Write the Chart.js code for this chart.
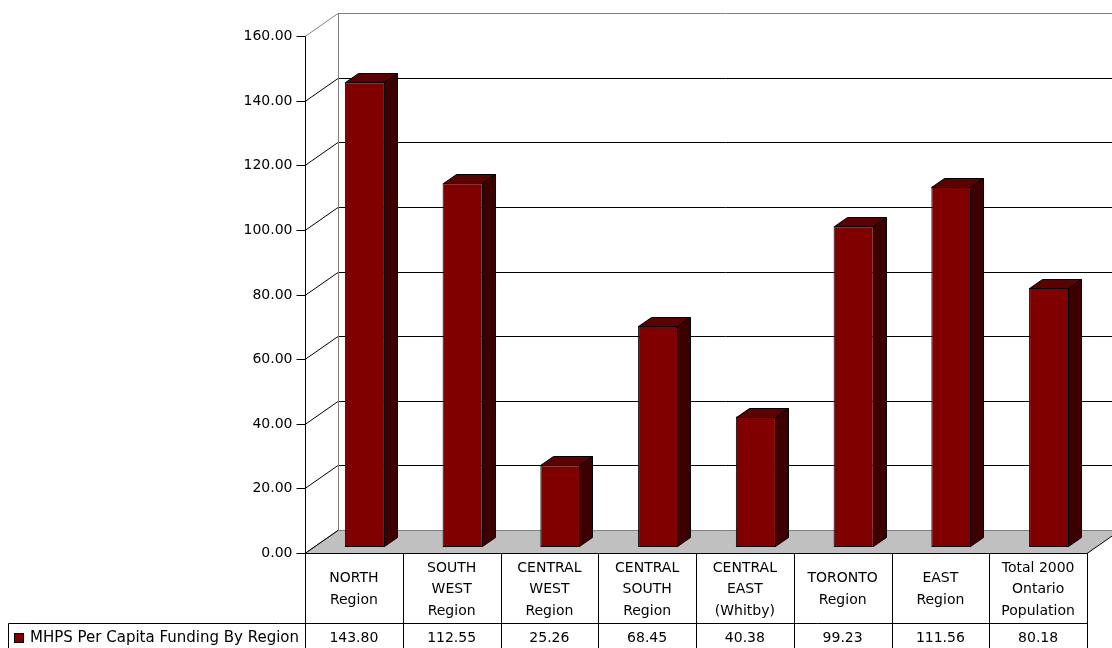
<!DOCTYPE html>
<html>
<head>
<meta charset="utf-8">
<script src="https://cdn.jsdelivr.net/npm/chart.js@4/dist/chart.umd.min.js"></script>
<style>
  html, body { margin: 0; padding: 0; background: #fff; }
  #wrap { width: 1112px; height: 648px; }
</style>
</head>
<body>
<div id="wrap"><canvas id="c" width="1112" height="648"></canvas></div>
<script>
// Regions (one label line per array entry)
const categories = [
  ["NORTH", "Region"],
  ["SOUTH", "WEST", "Region"],
  ["CENTRAL", "WEST", "Region"],
  ["CENTRAL", "SOUTH", "Region"],
  ["CENTRAL", "EAST", "(Whitby)"],
  ["TORONTO", "Region"],
  ["EAST", "Region"],
  ["Total 2000", "Ontario", "Population"]
];
const seriesName = "MHPS Per Capita Funding By Region";
const fundingPerCapita = [143.80, 112.55, 25.26, 68.45, 40.38, 99.23, 111.56, 80.18];
const yTicks = [0, 20, 40, 60, 80, 100, 120, 140, 160];

const FONT = '14px "DejaVu Sans", Verdana, sans-serif';
const KEY_FONT = '15px "DejaVu Sans", Verdana, sans-serif';
const DEPTH = { dx: 33, dy: -23 };      // floor / back wall depth
const BAR_SHIFT = { dx: 11, dy: -6 };   // bar front plane inside the box
const BAR_DEPTH = { dx: 13, dy: -9 };   // thickness of each column
const COL = { front: '#800000', top: '#5c0000', side: '#3c0000' };

function line(ctx, x1, y1, x2, y2, color) {
  ctx.beginPath();
  ctx.strokeStyle = color;
  ctx.lineWidth = 1;
  ctx.moveTo(x1, y1);
  ctx.lineTo(x2, y2);
  ctx.stroke();
}

const box3d = {
  id: 'box3d',
  beforeDatasetsDraw(chart) {
    const { ctx, chartArea: a, scales: { y } } = chart;
    ctx.save();
    const yMax = yTicks[yTicks.length - 1];
    // back wall gridlines + left wall diagonals
    yTicks.forEach(v => {
      const py = Math.round(y.getPixelForValue(v)) + 0.5;
      const col = v === yMax ? '#808080' : '#000';
      if (v !== 0) {
        line(ctx, a.left + DEPTH.dx, py + DEPTH.dy, chart.width + 40, py + DEPTH.dy, col);
      }
      line(ctx, a.left, py, a.left + DEPTH.dx, py + DEPTH.dy, col);
    });
    // back wall left edge
    const top = Math.round(y.getPixelForValue(yMax)) + 0.5 + DEPTH.dy;
    const bot = Math.round(y.getPixelForValue(0)) + 0.5 + DEPTH.dy;
    line(ctx, a.left + DEPTH.dx + 0.5, top, a.left + DEPTH.dx + 0.5, bot, '#808080');
    // floor
    const fy = Math.round(y.getPixelForValue(0)) + 0.5;
    ctx.beginPath();
    ctx.moveTo(a.left, fy);
    ctx.lineTo(a.right, fy);
    ctx.lineTo(a.right + DEPTH.dx, fy + DEPTH.dy);
    ctx.lineTo(a.left + DEPTH.dx, fy + DEPTH.dy);
    ctx.closePath();
    ctx.fillStyle = '#c0c0c0';
    ctx.fill();
    line(ctx, a.left + DEPTH.dx, fy + DEPTH.dy, a.right + DEPTH.dx, fy + DEPTH.dy, '#808080');
    line(ctx, a.left, fy, a.left + DEPTH.dx, fy + DEPTH.dy, '#000');
    line(ctx, a.right, fy, a.right + DEPTH.dx, fy + DEPTH.dy, '#000');
    ctx.restore();
    // bars are drawn in their own plane
    ctx.save();
    ctx.translate(BAR_SHIFT.dx, BAR_SHIFT.dy);
  },
  afterDatasetsDraw(chart) {
    const { ctx, chartArea: a, scales: { x, y } } = chart;
    // top and side faces of the columns
    const meta = chart.getDatasetMeta(0);
    ctx.lineWidth = 1;
    ctx.strokeStyle = '#000';
    ctx.lineJoin = 'miter';
    meta.data.forEach(bar => {
      const p = bar.getProps(['x', 'y', 'base', 'width'], true);
      const l = Math.round(p.x - p.width / 2) + 0.5;
      const r = Math.round(p.x + p.width / 2) - 0.5;
      const t = Math.round(p.y) + 0.5;
      const b = Math.round(p.base) - 0.5;
      ctx.beginPath();
      ctx.moveTo(l, t);
      ctx.lineTo(l + BAR_DEPTH.dx, t + BAR_DEPTH.dy);
      ctx.lineTo(r + BAR_DEPTH.dx, t + BAR_DEPTH.dy);
      ctx.lineTo(r, t);
      ctx.closePath();
      ctx.fillStyle = COL.top;
      ctx.fill();
      ctx.stroke();
      ctx.beginPath();
      ctx.moveTo(r, t);
      ctx.lineTo(r + BAR_DEPTH.dx, t + BAR_DEPTH.dy);
      ctx.lineTo(r + BAR_DEPTH.dx, b + BAR_DEPTH.dy);
      ctx.lineTo(r, b);
      ctx.closePath();
      ctx.fillStyle = COL.side;
      ctx.fill();
      ctx.stroke();
    });
    ctx.restore();

    ctx.save();
    // value axis
    const ax = Math.round(a.left) + 0.5;
    const y0 = Math.round(y.getPixelForValue(0)) + 0.5;
    const yTop = Math.round(y.getPixelForValue(yTicks[yTicks.length - 1])) + 0.5;
    line(ctx, ax, yTop, ax, y0, '#000');
    ctx.font = FONT;
    ctx.fillStyle = '#000';
    ctx.textAlign = 'right';
    ctx.textBaseline = 'middle';
    yTicks.forEach(v => {
      const py = Math.round(y.getPixelForValue(v)) + 0.5;
      line(ctx, ax - 9, py, ax, py, '#000');
      ctx.fillText(v.toFixed(2), ax - 13, py);
    });

    // data table
    const n = categories.length;
    const colW = (a.right - a.left) / n;
    const headBottom = 623.5;
    const tableBottom = chart.height + 1;
    const right = Math.round(a.right) + 0.5;
    line(ctx, ax, y0, right, y0, '#000');
    line(ctx, 8.5, headBottom, right, headBottom, '#000');
    line(ctx, 8.5, headBottom, 8.5, tableBottom, '#000');
    for (let i = 0; i <= n; i++) {
      const bx = Math.round(a.left + i * colW) + 0.5;
      line(ctx, bx, y0, bx, tableBottom, '#000');
    }
    ctx.textAlign = 'center';
    const headMid = (y0 + headBottom) / 2;
    const lh = 21.5;
    categories.forEach((lines, i) => {
      const cx = x.getPixelForValue(i);
      lines.forEach((s, k) => {
        ctx.fillText(s, cx, headMid + (k - (lines.length - 1) / 2) * lh + 1);
      });
      ctx.fillText(fundingPerCapita[i].toFixed(2), cx, 638);
    });
    // series key
    ctx.fillStyle = COL.front;
    ctx.fillRect(14, 633, 10, 10);
    ctx.strokeStyle = '#000';
    ctx.strokeRect(14.5, 633.5, 9, 9);
    ctx.fillStyle = '#000';
    ctx.textAlign = 'left';
    ctx.font = KEY_FONT;
    ctx.fillText(seriesName, 30, 638);
    ctx.restore();
  }
};

new Chart(document.getElementById('c'), {
  type: 'bar',
  data: {
    labels: categories,
    datasets: [{
      label: seriesName,
      data: fundingPerCapita,
      backgroundColor: COL.front,
      borderColor: '#000',
      borderWidth: 1,
      borderSkipped: false,
      barPercentage: 0.41,
      categoryPercentage: 1
    }]
  },
  options: {
    responsive: false,
    animation: false,
    devicePixelRatio: 1,
    layout: { padding: { left: 305, right: 25, top: 36, bottom: 95 } },
    plugins: { legend: { display: false }, tooltip: { enabled: false } },
    scales: {
      x: { display: false },
      y: { display: false, min: 0, max: 160, ticks: { stepSize: 20 } }
    }
  },
  plugins: [box3d]
});
</script>
</body>
</html>
